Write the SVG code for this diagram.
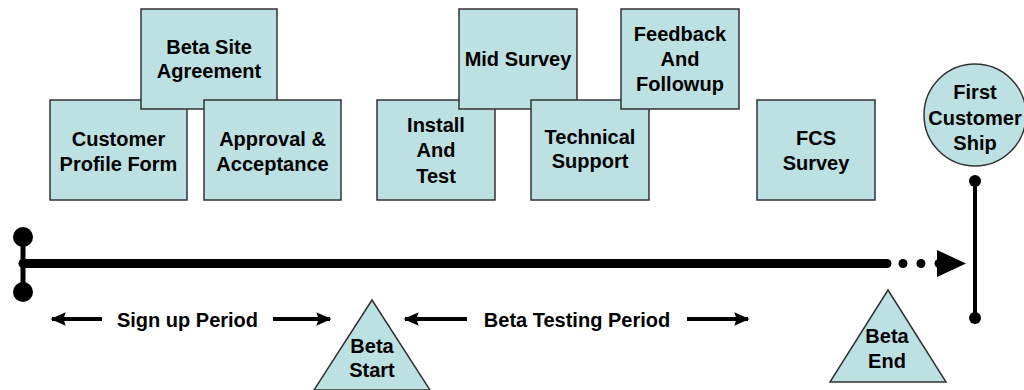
<svg xmlns="http://www.w3.org/2000/svg" width="1024" height="390" viewBox="0 0 1024 390">
  <defs>
    <style>
      .box { fill: #bde0e3; stroke: #333; stroke-width: 1.5; }
      .lbl { font-family: "Liberation Sans", Arial, sans-serif; font-weight: bold; font-size: 20px; fill: #000; text-anchor: middle; }
      .bar { stroke: #000; fill: none; }
    </style>
    <marker id="head" viewBox="0 0 10 10" refX="9" refY="5" markerWidth="3.8" markerHeight="3.8" orient="auto-start-reverse">
      <path d="M0,0.5 L10,5 L0,9.5 L1.5,5 Z" fill="#000"/>
    </marker>
  </defs>
  <rect width="1024" height="390" fill="#fff"/>

  <!-- timeline and connectors -->
  <g id="connectors">
    <line class="bar" x1="23" y1="237" x2="23" y2="292" stroke-width="5"/>
    <circle cx="23" cy="237" r="10" fill="#000"/>
    <circle cx="23" cy="292" r="10" fill="#000"/>
    <line class="bar" x1="23" y1="263.5" x2="887" y2="263.5" stroke-width="9" stroke-linecap="round"/>
    <circle cx="903" cy="263.5" r="4.5" fill="#000"/>
    <circle cx="921" cy="263.5" r="4.5" fill="#000"/>
    <circle cx="939" cy="263.5" r="4.5" fill="#000"/>
    <path d="M937,250 L966,263.5 L937,277 Z" fill="#000"/>
    <line class="bar" x1="975" y1="181" x2="975" y2="318" stroke-width="4"/>
    <circle cx="975" cy="181" r="6" fill="#000"/>
    <circle cx="975" cy="318" r="6" fill="#000"/>
    <!-- period arrows -->
    <line class="bar" x1="52" y1="319" x2="102" y2="319" stroke-width="4" marker-start="url(#head)"/>
    <line class="bar" x1="273" y1="319" x2="330" y2="319" stroke-width="4" marker-end="url(#head)"/>
    <line class="bar" x1="405" y1="319" x2="467" y2="319" stroke-width="4" marker-start="url(#head)"/>
    <line class="bar" x1="687" y1="319" x2="748" y2="319" stroke-width="4" marker-end="url(#head)"/>
  </g>

  <g id="signup-label"><text class="lbl" x="187.5" y="327">Sign up Period</text></g>
  <g id="testing-label"><text class="lbl" x="577" y="327">Beta Testing Period</text></g>

  <g id="customer-profile">
    <rect class="box" x="50" y="100" width="137" height="100"/>
    <text class="lbl" x="118.5" y="146">Customer</text>
    <text class="lbl" x="118.5" y="171">Profile Form</text>
  </g>
  <g id="beta-site">
    <rect class="box" x="141" y="9" width="136" height="100"/>
    <text class="lbl" x="209" y="54">Beta Site</text>
    <text class="lbl" x="209" y="78">Agreement</text>
  </g>
  <g id="approval">
    <rect class="box" x="204" y="100" width="137" height="100"/>
    <text class="lbl" x="272.5" y="146">Approval &amp;</text>
    <text class="lbl" x="272.5" y="171">Acceptance</text>
  </g>
  <g id="install">
    <rect class="box" x="377" y="100" width="118" height="100"/>
    <text class="lbl" x="436" y="132">Install</text>
    <text class="lbl" x="436" y="157">And</text>
    <text class="lbl" x="436" y="183">Test</text>
  </g>
  <g id="mid-survey">
    <rect class="box" x="459" y="9" width="118" height="100"/>
    <text class="lbl" x="518" y="66">Mid Survey</text>
  </g>
  <g id="tech-support">
    <rect class="box" x="531" y="100" width="118" height="100"/>
    <text class="lbl" x="590" y="144">Technical</text>
    <text class="lbl" x="590" y="168">Support</text>
  </g>
  <g id="feedback">
    <rect class="box" x="621" y="9" width="118" height="100"/>
    <text class="lbl" x="680" y="41">Feedback</text>
    <text class="lbl" x="680" y="66">And</text>
    <text class="lbl" x="680" y="91">Followup</text>
  </g>
  <g id="fcs-survey">
    <rect class="box" x="757" y="100" width="118" height="100"/>
    <text class="lbl" x="816" y="145">FCS</text>
    <text class="lbl" x="816" y="170">Survey</text>
  </g>
  <g id="first-ship">
    <circle class="box" cx="975" cy="115" r="51"/>
    <text class="lbl" x="975" y="99">First</text>
    <text class="lbl" x="975" y="125">Customer</text>
    <text class="lbl" x="975" y="150">Ship</text>
  </g>
  <g id="beta-start">
    <path class="box" d="M372,300 L430,390 L314,390 Z"/>
    <text class="lbl" x="372" y="353">Beta</text>
    <text class="lbl" x="372" y="377">Start</text>
  </g>
  <g id="beta-end">
    <path class="box" d="M888,290 L946,382 L830,382 Z"/>
    <text class="lbl" x="887" y="343">Beta</text>
    <text class="lbl" x="887" y="368">End</text>
  </g>
</svg>
